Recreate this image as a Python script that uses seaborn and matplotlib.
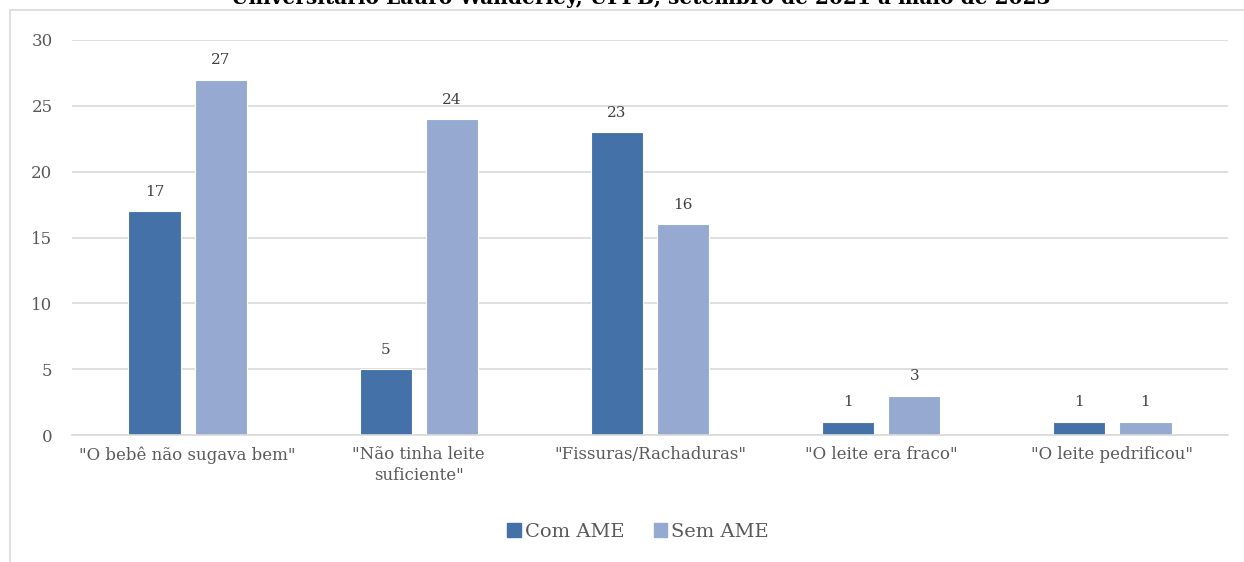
import matplotlib.pyplot as plt
import matplotlib.patches as mpatches
import numpy as np
import pandas as pd
import seaborn as sns

# ______________________________Data______________________________
categories  =   ['"O bebê não sugava bem"', '"Não tinha leite\nsuficiente"',
                 '"Fissuras/Rachaduras"', '"O leite era fraco"', '"O leite pedrificou"']
com_ame     =   [17, 5, 23, 1, 1]
sem_ame     =   [27, 24, 16, 3, 1]
groups      =   ['Com AME', 'Sem AME']
colors      =   ['#4472A8', '#95A9D1']
y_ticks     =   [0, 5, 10, 15, 20, 25, 30]
title_text  =   'Universitário Lauro Wanderley, UFPB, setembro de 2021 a maio de 2023'

df = pd.DataFrame({
    'Motivo': categories * 2,
    'Grupo': [groups[0]] * len(categories) + [groups[1]] * len(categories),
    'Valor': com_ame + sem_ame,
})

# ______________________________Plot______________________________
sns.set_theme(style='white')
plt.rcParams['font.family'] = ['DejaVu Serif', 'DejaVu Sans']

fig = plt.figure(figsize=(12.44, 5.62), dpi=100)
ax = fig.add_axes([72 / 1244, 1 - 435 / 562, (1228 - 72) / 1244, (435 - 40) / 562])

sns.barplot(data=df, x='Motivo', y='Valor', hue='Grupo', palette=colors,
            saturation=1, width=0.572, gap=0.21, edgecolor='white', linewidth=0.8,
            legend=False, ax=ax)

for cont in ax.containers:
    ax.bar_label(cont, padding=9, fontsize=11, color='#404040')

ax.set_xlim(-0.5, len(categories) - 0.5)
ax.set_ylim(0, 30)
ax.set_yticks(y_ticks)
ax.yaxis.grid(True, color='#d9d9d9', linewidth=1.2)
ax.set_axisbelow(True)
sns.despine(ax=ax, left=True, top=True, right=True, bottom=False)
ax.spines['bottom'].set_color('#d9d9d9')
ax.spines['bottom'].set_linewidth(1.2)
ax.tick_params(axis='y', length=0, pad=14, labelsize=12, labelcolor='#595959')
ax.tick_params(axis='x', length=0, pad=8, labelsize=12, labelcolor='#595959')
for lbl in ax.get_xticklabels():
    lbl.set_linespacing(1.3)
ax.set_xlabel('')
ax.set_ylabel('')

# chart frame (Excel-style border, clipped by the image edges)
frame = mpatches.Rectangle((10 / 1244, -0.1), 1.2, 1 - 10 / 562 + 0.1,
                           transform=fig.transFigure, fill=False,
                           edgecolor='#d9d9d9', linewidth=1.2)
fig.add_artist(frame)

# title cut off at the very top of the image
fig.text(641 / 1244, 1 - 4 / 562, title_text, ha='center', va='baseline',
         fontsize=14.5, fontweight='bold', color='#000000')

handles = [mpatches.Patch(color=c, label=g) for c, g in zip(colors, groups)]
fig.legend(handles=handles, loc='center', bbox_to_anchor=(638 / 1244, 1 - 532 / 562),
           ncol=2, frameon=False, fontsize=14, handlelength=0.7, handleheight=0.7,
           handletextpad=0.2, columnspacing=1.5, labelcolor='#595959')

fig.savefig('out.png', dpi=100)
